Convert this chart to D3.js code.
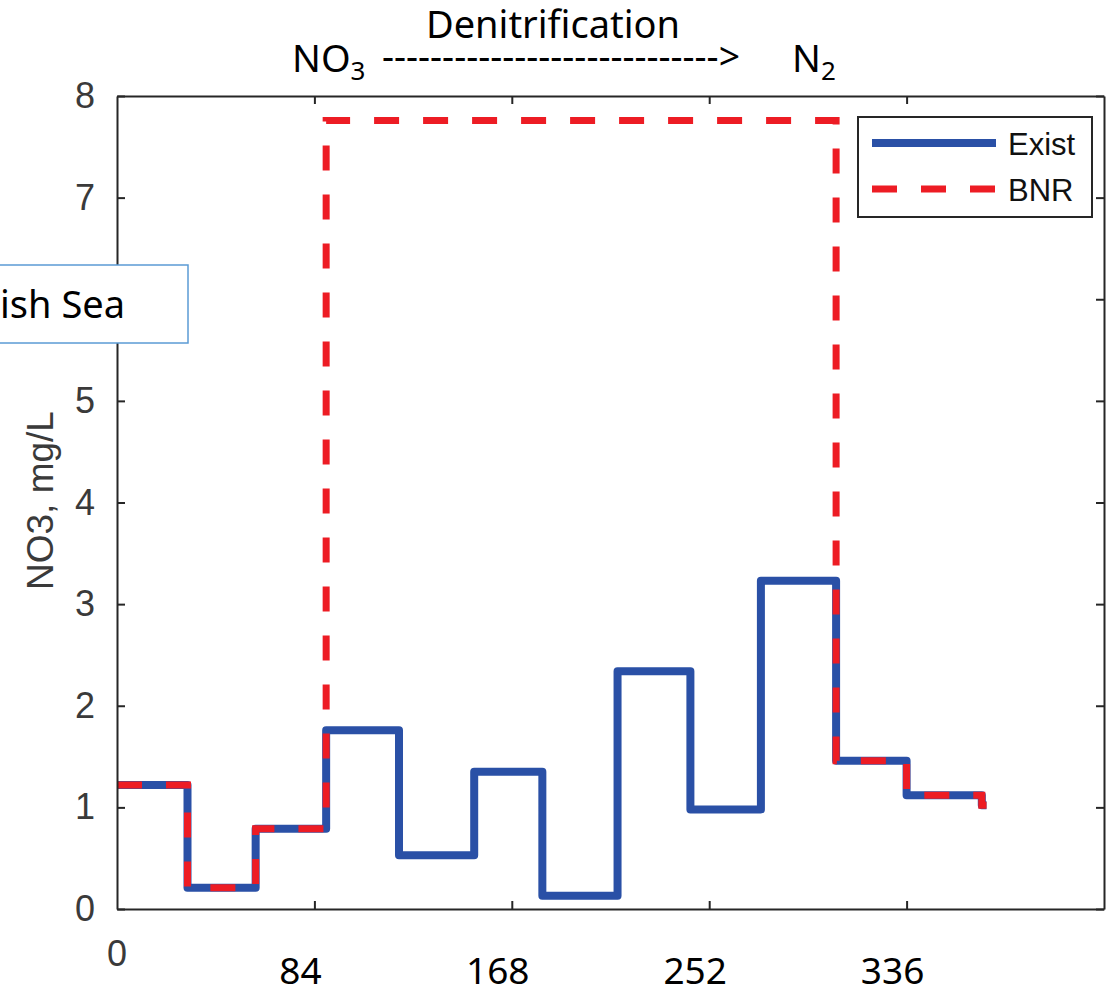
<!DOCTYPE html>
<html>
<head>
<meta charset="utf-8">
<script src="https://cdn.jsdelivr.net/npm/d3@7"></script>
<style>
  body { margin: 0; background: #fff; }
  svg { display: block; }
  .tick-label { font-family: "Liberation Sans", Arial, sans-serif; fill: #3a3a3a; }
  .overlay { font-family: "Noto Sans", "Open Sans", sans-serif; fill: #000; }
</style>
</head>
<body>
<svg width="1120" height="993"></svg>
<script>
// step data (day, mg/L)
const days  = [0, 30, 59, 89, 120, 152, 181, 213, 244, 274, 306, 336, 368, 370];
const exist = [1.22, 0.21, 0.79, 1.76, 0.53, 1.35, 0.13, 2.34, 0.98, 3.23, 1.46, 1.12, 1.02, 1.02];
const bnr   = [1.22, 0.21, 0.79, 7.76, 7.76, 7.76, 7.76, 7.76, 7.76, 7.76, 1.46, 1.12, 1.02, 1.02];
const xTicks = [84, 168, 252, 336];
const yTicks = [0, 1, 2, 3, 4, 5, 6, 7, 8];
const seriesNames = ["Exist", "BNR"];

let svg = d3.select("svg"),
    margin = {top: 96, right: 16, bottom: 84, left: 117},
    width = +svg.attr("width") - margin.left - margin.right,
    height = +svg.attr("height") - margin.top - margin.bottom;

let x = d3.scaleLinear().domain([0, 420]).range([margin.left, margin.left + width]),
    y = d3.scaleLinear().domain([0, 8]).range([margin.top + height, margin.top]);

let line = d3.line()
    .x(function(d) { return x(d[0]); })
    .y(function(d) { return y(d[1]); })
    .curve(d3.curveStepAfter);

let existPts = days.map(function(d, i) { return [d, exist[i]]; }),
    bnrPts = days.map(function(d, i) { return [d, bnr[i]]; });

// series
svg.append("path")
    .attr("d", line(existPts))
    .attr("fill", "none")
    .attr("stroke", "#2a50a6")
    .attr("stroke-width", 8)
    .attr("stroke-linejoin", "round");

svg.append("path")
    .attr("d", line(bnrPts))
    .attr("fill", "none")
    .attr("stroke", "#ed1c24")
    .attr("stroke-width", 7)
    .attr("stroke-dasharray", "25,24");

// box + inward ticks on all sides
let axisColor = "#262626";
svg.append("g")
    .attr("transform", "translate(0," + y(0) + ")")
    .call(d3.axisBottom(x).tickValues(xTicks).tickSizeInner(-8).tickSizeOuter(0).tickFormat(""))
    .call(function(g) { g.selectAll("path, line").attr("stroke", axisColor).attr("stroke-width", 2); });
svg.append("g")
    .attr("transform", "translate(0," + y(8) + ")")
    .call(d3.axisTop(x).tickValues(xTicks).tickSizeInner(-8).tickSizeOuter(0).tickFormat(""))
    .call(function(g) { g.selectAll("path, line").attr("stroke", axisColor).attr("stroke-width", 2); });
svg.append("g")
    .attr("transform", "translate(" + x(0) + ",0)")
    .call(d3.axisLeft(y).tickValues(yTicks).tickSizeInner(-8).tickSizeOuter(0).tickPadding(22))
    .call(function(g) {
      g.selectAll("path, line").attr("stroke", axisColor).attr("stroke-width", 2);
      g.selectAll("text").attr("class", "tick-label").attr("font-size", 36).attr("font-family", null).attr("fill", "#3a3a3a");
      // the "6" sits under the text box in the picture
      g.selectAll("text").filter(function(d) { return d === 6; }).remove();
    });
svg.append("g")
    .attr("transform", "translate(" + x(420) + ",0)")
    .call(d3.axisRight(y).tickValues(yTicks).tickSizeInner(-8).tickSizeOuter(0).tickFormat(""))
    .call(function(g) { g.selectAll("path, line").attr("stroke", axisColor).attr("stroke-width", 2); });

// x "0" label in the original axis style
svg.append("text")
    .attr("class", "tick-label")
    .attr("x", x(0))
    .attr("y", 966)
    .attr("text-anchor", "middle")
    .attr("font-size", 36)
    .text("0");

// y label
svg.append("text")
    .attr("class", "tick-label")
    .attr("transform", "translate(53," + (y(4) - 2) + ") rotate(-90)")
    .attr("text-anchor", "middle")
    .attr("font-size", 37)
    .text("NO3, mg/L");

// overlaid x labels
svg.selectAll(".xlab")
  .data(xTicks)
  .enter().append("text")
    .attr("class", "overlay xlab")
    .attr("x", function(d) { return x(d) - 14; })
    .attr("y", 984)
    .attr("text-anchor", "middle")
    .attr("font-size", 37)
    .text(function(d) { return d; });

// legend
let leg = svg.append("g");
leg.append("rect")
    .attr("x", 858).attr("y", 117).attr("width", 234).attr("height", 100)
    .attr("fill", "#fff").attr("stroke", axisColor).attr("stroke-width", 2);
leg.append("line")
    .attr("x1", 872).attr("x2", 996).attr("y1", 143).attr("y2", 143)
    .attr("stroke", "#2a50a6").attr("stroke-width", 8);
leg.append("line")
    .attr("x1", 872).attr("x2", 996).attr("y1", 189).attr("y2", 189)
    .attr("stroke", "#ed1c24").attr("stroke-width", 7).attr("stroke-dasharray", "25,24");
leg.selectAll(".legtext")
  .data(seriesNames)
  .enter().append("text")
    .attr("x", 1008)
    .attr("y", function(d, i) { return 144 + i * 46; })
    .attr("dy", "0.35em")
    .attr("font-family", "Liberation Sans, Arial, sans-serif")
    .attr("font-size", 31)
    .attr("fill", "#111")
    .text(function(d) { return d; });

// "Irish Sea" text box, cut off at the left
svg.append("rect")
    .attr("x", -20).attr("y", 265).attr("width", 208).attr("height", 78)
    .attr("fill", "#fff").attr("stroke", "#5b9bd5").attr("stroke-width", 1.5);
svg.append("text")
    .attr("class", "overlay")
    .attr("x", 125).attr("y", 318)
    .attr("text-anchor", "end")
    .attr("font-size", 38)
    .text("Irish Sea");

// title
svg.append("text")
    .attr("class", "overlay")
    .attr("x", 553).attr("y", 38)
    .attr("text-anchor", "middle")
    .attr("font-size", 38)
    .text("Denitrification");

let reaction = svg.append("g").attr("class", "overlay").attr("font-size", 38);
let t1 = reaction.append("text").attr("x", 292).attr("y", 72);
t1.append("tspan").text("NO");
t1.append("tspan").attr("font-size", 26).attr("dy", 8).text("3");
reaction.append("text")
    .attr("x", 382).attr("y", 70)
    .attr("textLength", 358).attr("lengthAdjust", "spacingAndGlyphs")
    .text("---------------------------->");
let t2 = reaction.append("text").attr("x", 792).attr("y", 72);
t2.append("tspan").text("N");
t2.append("tspan").attr("font-size", 26).attr("dy", 8).text("2");
</script>
</body>
</html>
